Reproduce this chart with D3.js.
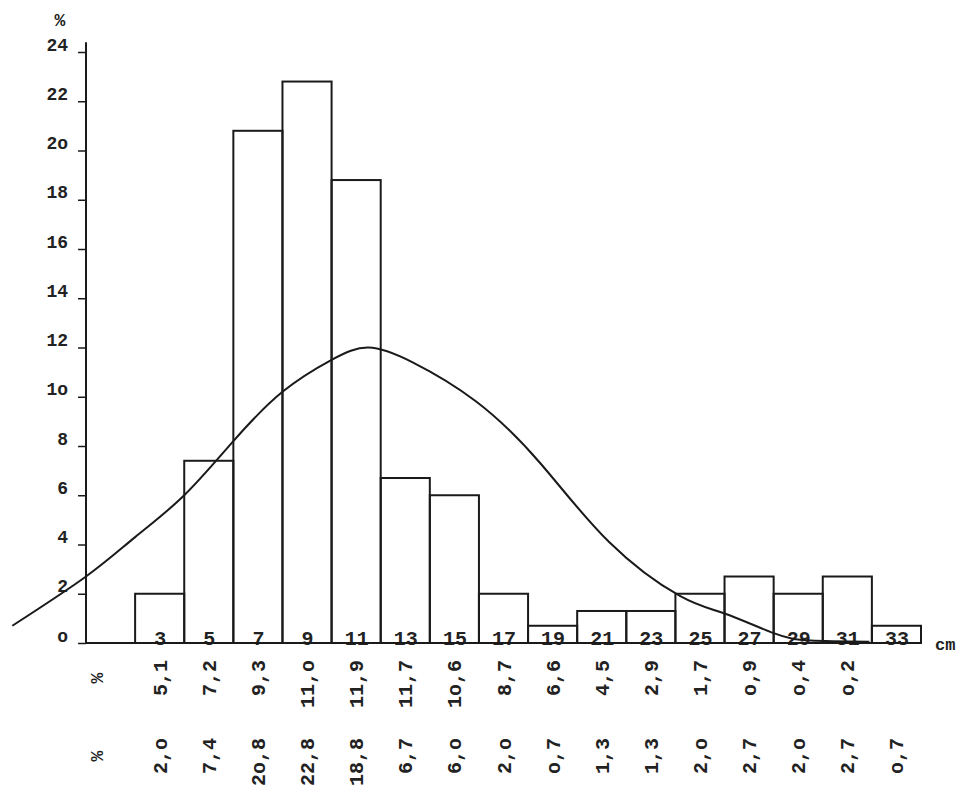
<!DOCTYPE html>
<html>

<head>
    <script src="https://d3js.org/d3.v7.min.js"></script>
    <meta charset="utf-8" />
    <title>Histogram with normal curve</title>
    <style>
        body { margin: 0; background: #fff; }
        svg text { font-family: "Liberation Mono", "DejaVu Sans Mono", monospace; font-weight: bold; fill: #222; }
    </style>
</head>

<body>
    <div id="chart"></div>

    <script>
        // class midpoints (cm) and observed percentages
        const classes = [3, 5, 7, 9, 11, 13, 15, 17, 19, 21, 23, 25, 27, 29, 31, 33];
        const observed = [2.0, 7.4, 20.8, 22.8, 18.8, 6.7, 6.0, 2.0, 0.7, 1.3, 1.3, 2.0, 2.7, 2.0, 2.7, 0.7];
        const observedLabels = ["2,o", "7,4", "2o,8", "22,8", "18,8", "6,7", "6,o", "2,o", "o,7", "1,3", "1,3", "2,o", "2,7", "2,o", "2,7", "o,7"];

        // expected percentages (normal distribution), first 15 classes
        const expectedLabels = ["5,1", "7,2", "9,3", "11,o", "11,9", "11,7", "1o,6", "8,7", "6,6", "4,5", "2,9", "1,7", "o,9", "o,4", "o,2"];

        // hand drawn curve (x in cm, y in %)
        const curveX = [-3.0, 0, 2, 4, 6, 8, 10, 11.5, 13.3, 15.9, 18.5, 21.3, 24.2, 26, 28, 29.5, 31.9];
        const curveY = [0.7, 2.7, 4.3, 6.0, 8.2, 10.2, 11.5, 12.0, 11.4, 9.8, 7.3, 4.1, 1.9, 1.2, 0.4, 0.1, 0.05];

        const yTicks = [0, 2, 4, 6, 8, 10, 12, 14, 16, 18, 20, 22, 24];
        const yTickLabels = ["o", "2", "4", "6", "8", "1o", "12", "14", "16", "18", "2o", "22", "24"];

        const svgWidth = 960;
        const svgHeight = 789;
        const classWidth = 2;

        var svg = d3.select("#chart")
            .append("svg")
            .attr("width", svgWidth)
            .attr("height", svgHeight);

        // scales
        const xScale = d3.scaleLinear().domain([0, 34]).range([86, 921]);
        const yScale = d3.scaleLinear().domain([0, 24]).range([643, 52]);

        const ink = "#1a1a1a";

        // bars
        svg.selectAll(".bar")
            .data(observed)
            .enter().append("rect")
            .attr("class", "bar")
            .attr("x", (d, i) => xScale(classes[i] - classWidth / 2))
            .attr("y", d => yScale(d))
            .attr("width", xScale(classWidth) - xScale(0))
            .attr("height", d => yScale(0) - yScale(d))
            .attr("fill", "none")
            .attr("stroke", ink)
            .attr("stroke-width", 2);

        // y axis
        const yAxis = d3.axisLeft(yScale)
            .tickValues(yTicks)
            .tickFormat((d, i) => yTickLabels[i])
            .tickSize(8)
            .tickPadding(10);
        const yg = svg.append("g")
            .attr("transform", `translate(${xScale(0)}, 0)`)
            .call(yAxis);
        yg.select(".domain").remove();
        yg.selectAll(".tick line").attr("stroke", ink).attr("stroke-width", 1.5);
        yg.selectAll(".tick text")
            .attr("dy", "-0.1em")
            .style("font-size", "18px")
            .style("font-family", "Liberation Mono, monospace")
            .style("font-weight", "bold");
        svg.append("line")
            .attr("x1", xScale(0)).attr("x2", xScale(0))
            .attr("y1", yScale(0)).attr("y2", yScale(24.4))
            .attr("stroke", ink).attr("stroke-width", 2);

        // x axis with class labels sitting on the baseline
        const xAxis = d3.axisTop(xScale)
            .tickValues(classes)
            .tickFormat(d => d)
            .tickSize(0)
            .tickPadding(-2);
        const xg = svg.append("g")
            .attr("transform", `translate(0, ${yScale(0)})`)
            .call(xAxis);
        xg.select(".domain").remove();
        xg.selectAll(".tick text")
            .style("font-size", "20px")
            .style("font-family", "Liberation Mono, monospace")
            .style("font-weight", "bold");
        svg.append("line")
            .attr("x1", xScale(0)).attr("x2", xScale(34))
            .attr("y1", yScale(0)).attr("y2", yScale(0))
            .attr("stroke", ink).attr("stroke-width", 2);

        // normal curve
        const line = d3.line()
            .x(d => xScale(d[0]))
            .y(d => yScale(d[1]))
            .curve(d3.curveNatural);
        svg.append("path")
            .datum(curveX.map((x, i) => [x, curveY[i]]))
            .attr("d", line)
            .attr("fill", "none")
            .attr("stroke", ink)
            .attr("stroke-width", 2);

        // axis units
        svg.append("text")
            .attr("x", 60).attr("y", 26)
            .attr("text-anchor", "middle")
            .style("font-size", "18px")
            .text("%");
        svg.append("text")
            .attr("x", 935).attr("y", 650)
            .style("font-size", "17px")
            .text("cm");

        // rotated value rows
        function valueRow(labels, yEnd) {
            svg.selectAll(null)
                .data(labels)
                .enter().append("text")
                .attr("transform", (d, i) => `translate(${xScale(classes[i])}, ${yEnd}) rotate(-90)`)
                .attr("dy", "0.35em")
                .attr("text-anchor", "end")
                .style("font-size", "20px")
                .text(d => d);
            svg.append("text")
                .attr("transform", `translate(97, ${yEnd + 18}) rotate(-90)`)
                .attr("dy", "0.35em")
                .attr("text-anchor", "middle")
                .style("font-size", "18px")
                .text("%");
        }
        valueRow(expectedLabels, 660);
        valueRow(observedLabels, 738);

    </script>
</body>

</html>
